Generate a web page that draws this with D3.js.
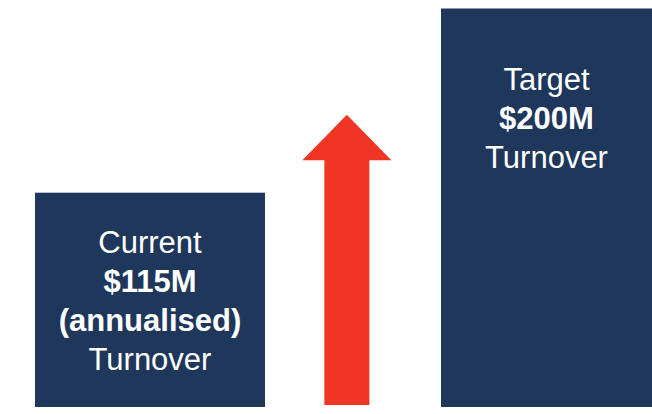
<!DOCTYPE html>
<html>
<head>
<meta charset="utf-8">
<script src="https://cdn.jsdelivr.net/npm/d3@7"></script>
<style>
  html, body { margin: 0; padding: 0; background: #fff; }
  svg { display: block; }
</style>
</head>
<body>
<div id="chart"></div>
<script>
// Turnover: current vs target
const categories = ["Current", "Target"];
const values = [115, 200];                     // $M
const labelLines = [
  [{ t: "Current", b: false }, { t: "$115M", b: true }, { t: "(annualised)", b: true }, { t: "Turnover", b: false }],
  [{ t: "Target", b: false }, { t: "$200M", b: true }, { t: "Turnover", b: false }]
];
const baseValue = 16.1;                        // value at the bar baseline
const arrowValues = { tip: 151, headBase: 130 }; // growth arrow, in $M on the same scale

const width = 652, height = 414;
const navy = "#1e375a", red = "#ef3524";
const fontSize = 31, lineGap = 39;

const svg = d3.select("#chart").append("svg")
  .attr("width", width).attr("height", height);

const x = d3.scaleBand()
  .domain(categories)
  .range([35, 671])
  .paddingInner(0.4335)
  .paddingOuter(0);

const y = d3.scaleLinear()
  .domain([baseValue, 200])
  .range([407, 8.5]);

// bars
svg.selectAll("rect.bar")
  .data(categories)
  .join("rect")
  .attr("class", "bar")
  .attr("x", d => x(d))
  .attr("y", (d, i) => y(values[i]))
  .attr("width", x.bandwidth())
  .attr("height", (d, i) => y(baseValue) - y(values[i]))
  .attr("fill", navy);

// growth arrow between the bars
const gapStart = x("Current") + x.bandwidth();
const gapEnd = x("Target");
const ax = gapStart + (gapEnd - gapStart) * 0.465;
const headHalf = 44.5, shaftHalf = 22.5;
const yBottom = y(baseValue) - 2;
const arrowPath = d3.path();
arrowPath.moveTo(ax - shaftHalf, yBottom);
arrowPath.lineTo(ax - shaftHalf, y(arrowValues.headBase));
arrowPath.lineTo(ax - headHalf, y(arrowValues.headBase));
arrowPath.lineTo(ax, y(arrowValues.tip));
arrowPath.lineTo(ax + headHalf, y(arrowValues.headBase));
arrowPath.lineTo(ax + shaftHalf, y(arrowValues.headBase));
arrowPath.lineTo(ax + shaftHalf, yBottom);
arrowPath.closePath();
svg.append("path").attr("d", arrowPath.toString()).attr("fill", red);

// labels inside bars
categories.forEach((c, i) => {
  const x0 = x(c);
  const x1 = Math.min(x0 + x.bandwidth(), width);
  const cx = (x0 + x1) / 2;
  const lines = labelLines[i];
  const top = y(values[i]), bottom = y(baseValue);
  let firstBaseline;
  if (i === 0) {
    // vertically centred in the bar
    const blockH = (lines.length - 1) * lineGap + fontSize * 0.72;
    firstBaseline = (top + bottom) / 2 - blockH / 2 + fontSize * 0.72;
  } else {
    // sits near the top of the tall bar
    firstBaseline = top + 81.5;
  }
  const g = svg.append("text")
    .attr("text-anchor", "middle")
    .attr("fill", "#ffffff")
    .attr("font-family", "Liberation Sans, Arial, sans-serif")
    .attr("font-size", fontSize);
  lines.forEach((ln, k) => {
    g.append("tspan")
      .attr("x", cx)
      .attr("y", firstBaseline + k * lineGap)
      .attr("font-weight", ln.b ? "bold" : "normal")
      .text(ln.t);
  });
});
</script>
</body>
</html>
